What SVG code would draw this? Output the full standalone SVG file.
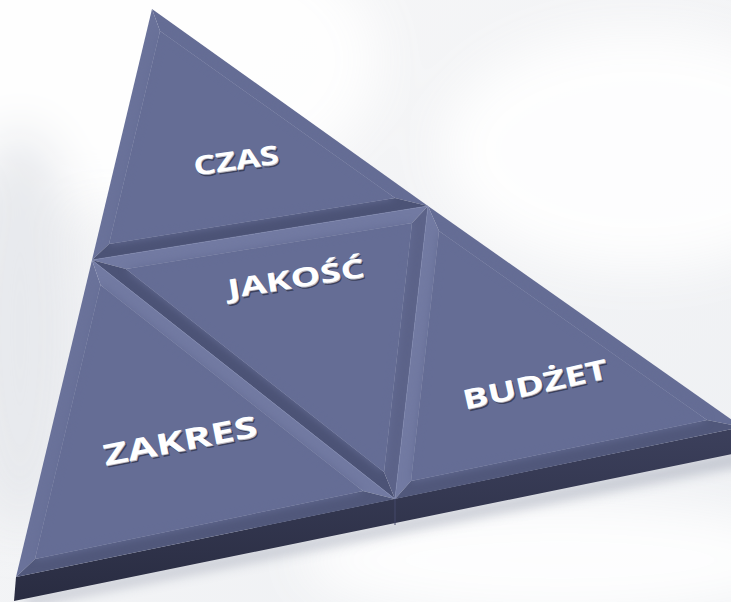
<svg xmlns="http://www.w3.org/2000/svg" width="731" height="602" viewBox="0 0 731 602">
  <defs>
    <linearGradient id="bg" x1="0" y1="0" x2="1" y2="1">
      <stop offset="0" stop-color="#f7f7f8"/>
      <stop offset="1" stop-color="#eef0f3"/>
    </linearGradient>
    <linearGradient id="side" x1="0" y1="0" x2="0" y2="1">
      <stop offset="0" stop-color="#3c405c"/>
      <stop offset="1" stop-color="#292c41"/>
    </linearGradient>
    <filter id="soft" x="-10%" y="-10%" width="120%" height="120%" color-interpolation-filters="sRGB">
      <feGaussianBlur stdDeviation="4"/>
    </filter>
    <filter id="shadowBlur" x="-10%" y="-50%" width="120%" height="200%">
      <feGaussianBlur stdDeviation="6"/>
    </filter>
    <filter id="bgBlur" x="-20%" y="-20%" width="140%" height="140%">
      <feGaussianBlur stdDeviation="25"/>
    </filter>
  </defs>
  <style>
    .face { fill: #656d95; }
    .lt { fill: #727aa2; }
    .lt2 { fill: #6a729a; }
    .md { fill: #5c6389; }
    .dk { fill: #4c5376; }
    .bt { fill: #51587b; }
    .seam { fill: none; stroke: #7c84ac; stroke-width: 1; stroke-opacity: 0.7; }
    .lbl { font-family: "Open Sans", "Liberation Sans", sans-serif; font-weight: bold; text-anchor: middle; }
    .lbl-s { fill: #2f3349; fill-opacity: 0.75; }
    .lbl-e { fill: #b9bcc8; }
    .lbl-f { fill: #ffffff; }
  </style>

  <!-- background -->
  <rect x="0" y="0" width="731" height="602" fill="url(#bg)"/>
  <g filter="url(#bgBlur)" opacity="0.9">
    <ellipse cx="120" cy="60" rx="260" ry="150" fill="#ffffff"/>
    <ellipse cx="640" cy="150" rx="200" ry="120" fill="#ffffff"/>
    <ellipse cx="20" cy="330" rx="60" ry="200" fill="#e6e8ec"/>
    <ellipse cx="560" cy="560" rx="260" ry="60" fill="#ffffff"/>
  </g>

  <!-- drop shadow -->
  <polygon points="20,598 742,450 742,466 30,606" fill="#9096a8" opacity="0.45" filter="url(#shadowBlur)"/>

  <!-- slab side -->
  <g id="slab-side">
    <polygon points="16,577 742,427 742,452 14,601" fill="url(#side)"/>
    <line x1="395" y1="499" x2="395" y2="525" stroke="#45496a" stroke-width="1"/>
  </g>

  <g id="node-czas">
    <polygon class="lt2" points="152,9 92,260 109,244 160,31"/>
    <polygon class="face" points="152,9 160,31 395,198 428,206"/>
    <polygon class="dk" points="92,260 428,206 395,198 109,244"/>
    <polygon class="face" points="160,31 109,244 395,198"/>
    <polygon class="face" points="160,31 109,244 395,198" filter="url(#soft)"/>
    <g transform="translate(236,160) rotate(-8)">
      <text class="lbl lbl-s" x="1.5" y="12" font-size="26" textLength="86" lengthAdjust="spacingAndGlyphs">CZAS</text>
      <text class="lbl lbl-e" x="0.6" y="10.5" font-size="26" textLength="86" lengthAdjust="spacingAndGlyphs">CZAS</text>
      <text class="lbl lbl-f" x="0" y="9.5" font-size="26" textLength="86" lengthAdjust="spacingAndGlyphs">CZAS</text>
    </g>
  </g>

  <g id="node-jakosc">
    <polygon class="lt" points="92,260 428,206 412,223 126,269"/>
    <polygon class="dk" points="92,260 126,269 384,472 395,499"/>
    <polygon class="md" points="428,206 395,499 384,472 412,223"/>
    <polygon class="face" points="126,269 412,223 384,472"/>
    <polygon class="face" points="126,269 412,223 384,472" filter="url(#soft)"/>
    <g transform="translate(296,278) rotate(-9)">
      <text class="lbl lbl-s" x="1.5" y="12" font-size="26" textLength="138" lengthAdjust="spacingAndGlyphs">JAKOŚĆ</text>
      <text class="lbl lbl-e" x="0.6" y="10.5" font-size="26" textLength="138" lengthAdjust="spacingAndGlyphs">JAKOŚĆ</text>
      <text class="lbl lbl-f" x="0" y="9.5" font-size="26" textLength="138" lengthAdjust="spacingAndGlyphs">JAKOŚĆ</text>
    </g>
  </g>

  <g id="node-zakres">
    <polygon class="lt2" points="92,260 16,577 35,559 100.5,285"/>
    <polygon class="lt" points="92,260 100.5,285 363,491 395,499"/>
    <polygon class="bt" points="16,577 395,499 363,491 35,559"/>
    <polygon class="face" points="100.5,285 35,559 363,491"/>
    <polygon class="face" points="100.5,285 35,559 363,491" filter="url(#soft)"/>
    <g transform="translate(180,440) rotate(-11)">
      <text class="lbl lbl-s" x="1.5" y="13.5" font-size="29" textLength="156" lengthAdjust="spacingAndGlyphs">ZAKRES</text>
      <text class="lbl lbl-e" x="0.6" y="12" font-size="29" textLength="156" lengthAdjust="spacingAndGlyphs">ZAKRES</text>
      <text class="lbl lbl-f" x="0" y="11" font-size="29" textLength="156" lengthAdjust="spacingAndGlyphs">ZAKRES</text>
    </g>
  </g>

  <g id="node-budzet">
    <polygon class="lt" points="428,206 439,231 411,481 395,499"/>
    <polygon class="face" points="428,206 742,427 707,420 439,231"/>
    <polygon class="bt" points="395,499 411,481 707,420 742,427"/>
    <polygon class="face" points="439,231 707,420 411,481"/>
    <polygon class="face" points="439,231 707,420 411,481" filter="url(#soft)"/>
    <g transform="translate(535,384) rotate(-12.5)">
      <text class="lbl lbl-s" x="1.5" y="12.5" font-size="27" textLength="148" lengthAdjust="spacingAndGlyphs">BUDŻET</text>
      <text class="lbl lbl-e" x="0.6" y="11" font-size="27" textLength="148" lengthAdjust="spacingAndGlyphs">BUDŻET</text>
      <text class="lbl lbl-f" x="0" y="10" font-size="27" textLength="148" lengthAdjust="spacingAndGlyphs">BUDŻET</text>
    </g>
  </g>

  <g id="connectors">
    <polyline class="seam" points="92,260 428,206 395,499 92,260"/>
  </g>
</svg>
